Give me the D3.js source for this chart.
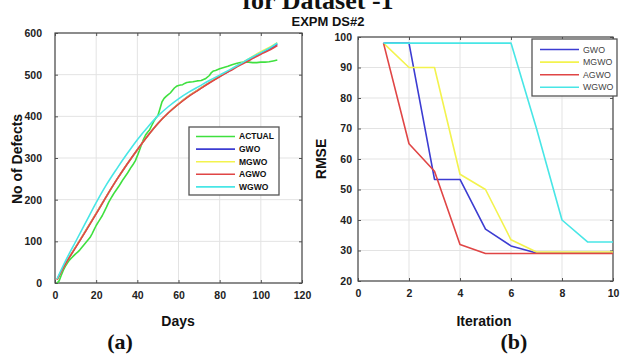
<!DOCTYPE html>
<html>
<head>
<meta charset="utf-8">
<script src="https://cdn.jsdelivr.net/npm/d3@7"></script>
<style>
body { margin: 0; background: #fff; }
svg { display: block; }
</style>
</head>
<body>
<svg id="chart"></svg>
<script>
'use strict';

let WIDTH = 628;
let HEIGHT = 356;

// (a) defects per day
let DAYS_ACT = [1, 2, 3, 4, 5, 6, 7, 8, 9, 10, 11, 12, 13, 14, 15, 16, 17, 18, 19, 20,
    21, 22, 23, 24, 25, 26, 27, 28, 29, 30, 31, 32, 33, 34, 35, 36, 37, 38, 39, 40,
    41, 42, 43, 44, 45, 46, 47, 48, 49, 50, 51, 52, 53, 54, 55, 56, 57, 58, 59, 60,
    61, 62, 63, 64, 65, 67, 69, 71, 73, 75, 76, 77, 78, 80, 82, 84, 86, 88, 90, 92,
    94, 96, 98, 100, 102, 104, 106, 108];
let ACTUAL = [0, 5, 18, 30, 40, 48, 55, 60, 65, 70, 74, 79, 85, 91, 97, 103, 109, 118, 128, 138,
    146, 154, 162, 172, 182, 193, 202, 210, 218, 225, 232, 240, 248, 255, 262, 270, 278, 285, 293, 305,
    318, 332, 345, 355, 362, 368, 378, 388, 396, 402, 418, 435, 443, 448, 452, 456, 462, 468, 472, 474,
    475, 476, 479, 481, 482, 483, 485, 486, 490, 498, 505, 509, 510, 514, 517, 520, 524, 527, 529, 530,
    530, 529, 529, 530, 530, 531, 533, 535];

let DAYS_FIT = [1, 5, 10, 15, 20, 25, 30, 35, 40, 45, 50, 55, 60, 65, 70, 75, 80, 85, 90, 95, 100, 105, 108];
let GWO_FIT = [8, 45, 86, 126, 167, 208, 248, 285, 320, 353, 383, 408, 430, 449, 465, 481, 496, 510, 525, 539, 552, 564, 573];
let MGWO_FIT = [8, 45, 86, 126, 167, 208, 248, 285, 320, 353, 383, 408, 430, 449, 465, 481, 496, 511, 526, 541, 555, 568, 577];
let AGWO_FIT = [8, 45, 85, 125, 166, 208, 248, 285, 320, 353, 383, 408, 429, 448, 464, 480, 495, 509, 523, 536, 549, 561, 570];
let WGWO_FIT = [10, 52, 99, 146, 193, 236, 274, 310, 344, 374, 401, 423, 442, 458, 472, 486, 499, 512, 526, 540, 553, 566, 576];

// (b) convergence
let ITER = [1, 2, 3, 4, 5, 6, 7, 8, 9, 10];
let GWO_RMSE = [98, 98, 53.3, 53.3, 37, 31.5, 29.2, 29.2, 29.2, 29.2];
let MGWO_RMSE = [98, 90, 90, 55, 50, 33.5, 29.5, 29.5, 29.5, 29.5];
let AGWO_RMSE = [98, 65, 56, 32, 29, 29, 29, 29, 29, 29];
let WGWO_RMSE = [98, 98, 98, 98, 98, 98, 70, 40, 32.8, 32.8];

let X_TICKS_A = [0, 20, 40, 60, 80, 100, 120];
let Y_TICKS_A = [0, 100, 200, 300, 400, 500, 600];
let X_TICKS_B = [0, 2, 4, 6, 8, 10];
let Y_TICKS_B = [20, 30, 40, 50, 60, 70, 80, 90, 100];

let COLOR = {
    ACTUAL: '#3fe03f',
    GWO: '#3c3cd2',
    MGWO: '#f3f34e',
    AGWO: '#e04545',
    WGWO: '#48e6e6'
};

let FONT = '"Liberation Sans", Arial, sans-serif';
let SERIF = '"Liberation Serif", "Times New Roman", serif';

let svg = d3.select('#chart').attr('width', WIDTH).attr('height', HEIGHT);

function panel(box, xDomain, yDomain, xTicks, yTicks, labelGap) {
    let x = d3.scaleLinear().domain(xDomain).range([box.x0, box.x1]);
    let y = d3.scaleLinear().domain(yDomain).range([box.y1, box.y0]);
    let g = svg.append('g');

    // grid
    g.selectAll('.vgrid').data(xTicks).enter().append('line')
        .attr('x1', d => x(d)).attr('x2', d => x(d))
        .attr('y1', box.y0).attr('y2', box.y1)
        .attr('stroke', '#e3e3e3').attr('stroke-width', 1);
    g.selectAll('.hgrid').data(yTicks).enter().append('line')
        .attr('x1', box.x0).attr('x2', box.x1)
        .attr('y1', d => y(d)).attr('y2', d => y(d))
        .attr('stroke', '#e3e3e3').attr('stroke-width', 1);

    // axes, ticks inside
    let axes = [
        [d3.axisBottom(x).tickValues(xTicks).tickSize(-3), box.y1],
        [d3.axisTop(x).tickValues(xTicks).tickSize(-3).tickFormat(''), box.y0],
    ];
    axes.forEach(function(a) {
        let ag = g.append('g').attr('transform', 'translate(0,' + a[1] + ')').call(a[0]);
        ag.select('.domain').remove();
        ag.selectAll('line').attr('stroke', '#555');
        ag.selectAll('text').attr('font-family', FONT).attr('font-size', 10.5)
            .attr('font-weight', 'bold').attr('fill', '#222').attr('dy', '0.71em')
            .attr('y', 9);
    });
    let left = g.append('g').attr('transform', 'translate(' + box.x0 + ',0)')
        .call(d3.axisLeft(y).tickValues(yTicks).tickSize(-3));
    left.select('.domain').remove();
    left.selectAll('line').attr('stroke', '#555');
    left.selectAll('text').attr('font-family', FONT).attr('font-size', 10.5)
        .attr('font-weight', 'bold').attr('fill', '#222').attr('x', -labelGap);
    let right = g.append('g').attr('transform', 'translate(' + box.x1 + ',0)')
        .call(d3.axisRight(y).tickValues(yTicks).tickSize(-3).tickFormat(''));
    right.select('.domain').remove();
    right.selectAll('line').attr('stroke', '#555');

    g.append('rect')
        .attr('x', box.x0).attr('y', box.y0)
        .attr('width', box.x1 - box.x0).attr('height', box.y1 - box.y0)
        .attr('fill', 'none').attr('stroke', '#4a4a4a').attr('stroke-width', 1.2);

    return { x: x, y: y, g: g };
}

function drawLine(p, xs, ys, color, curve) {
    let line = d3.line()
        .x(d => p.x(d[0]))
        .y(d => p.y(d[1]))
        .curve(curve);
    p.g.append('path')
        .datum(xs.map((v, i) => [v, ys[i]]))
        .attr('d', line)
        .attr('fill', 'none')
        .attr('stroke', color)
        .attr('stroke-width', 1.6)
        .attr('stroke-linejoin', 'round');
}

function legend(box, names, rowH, bold, textColor) {
    let g = svg.append('g');
    g.append('rect')
        .attr('x', box.x0).attr('y', box.y0)
        .attr('width', box.x1 - box.x0).attr('height', box.y1 - box.y0)
        .attr('fill', '#fff').attr('stroke', '#555').attr('stroke-width', 1.3);
    names.forEach(function(n, i) {
        let yy = box.first + i * rowH;
        g.append('line')
            .attr('x1', box.lx0).attr('x2', box.lx1)
            .attr('y1', yy).attr('y2', yy)
            .attr('stroke', COLOR[n]).attr('stroke-width', 1.6);
        g.append('text')
            .attr('x', box.tx).attr('y', yy).attr('dy', '0.35em')
            .attr('font-family', FONT).attr('font-size', bold ? 8.5 : 8.8)
            .attr('font-weight', bold ? 'bold' : 'normal')
            .attr('fill', textColor)
            .text(n);
    });
}

// ---- panel (a)
let pa = panel({ x0: 55, x1: 302, y0: 33, y1: 283 }, [0, 120], [0, 600], X_TICKS_A, Y_TICKS_A, 13);
drawLine(pa, DAYS_ACT, ACTUAL, COLOR.ACTUAL, d3.curveLinear);
drawLine(pa, DAYS_FIT, GWO_FIT, COLOR.GWO, d3.curveMonotoneX);
drawLine(pa, DAYS_FIT, MGWO_FIT, COLOR.MGWO, d3.curveMonotoneX);
drawLine(pa, DAYS_FIT, AGWO_FIT, COLOR.AGWO, d3.curveMonotoneX);
drawLine(pa, DAYS_FIT, WGWO_FIT, COLOR.WGWO, d3.curveMonotoneX);
legend({ x0: 189, x1: 279, y0: 127, y1: 195, lx0: 196, lx1: 235, tx: 239, first: 136.5 },
    ['ACTUAL', 'GWO', 'MGWO', 'AGWO', 'WGWO'], 12.6, true, '#111');

// ---- panel (b)
let pb = panel({ x0: 358, x1: 613, y0: 37, y1: 281 }, [0, 10], [20, 100], X_TICKS_B, Y_TICKS_B, 6);
drawLine(pb, ITER, GWO_RMSE, COLOR.GWO, d3.curveLinear);
drawLine(pb, ITER, MGWO_RMSE, COLOR.MGWO, d3.curveLinear);
drawLine(pb, ITER, AGWO_RMSE, COLOR.AGWO, d3.curveLinear);
drawLine(pb, ITER, WGWO_RMSE, COLOR.WGWO, d3.curveLinear);
legend({ x0: 532, x1: 617, y0: 39, y1: 96, lx0: 540, lx1: 579, tx: 583, first: 49.5 },
    ['GWO', 'MGWO', 'AGWO', 'WGWO'], 12.6, false, '#444');

// ---- texts
function label(x, y, txt, size, family, rotate) {
    let t = svg.append('text')
        .attr('x', x).attr('y', y)
        .attr('text-anchor', 'middle')
        .attr('font-family', family).attr('font-size', size)
        .attr('font-weight', 'bold').attr('fill', '#111')
        .text(txt);
    if (rotate) t.attr('transform', 'rotate(-90,' + x + ',' + y + ')');
    return t;
}

// the figure title is cropped at the top edge in the source
label(318, 9, 'for Dataset -1', 26, SERIF);
label(328, 26, 'EXPM DS#2', 13, FONT);
label(22, 159, 'No of Defects', 14, FONT, true);
label(326, 159, 'RMSE', 14, FONT, true);
label(178, 326, 'Days', 14, FONT);
label(484, 326, 'Iteration', 14, FONT);
label(120, 349, '(a)', 22, SERIF);
label(514, 349, '(b)', 22, SERIF);
</script>
</body>
</html>
